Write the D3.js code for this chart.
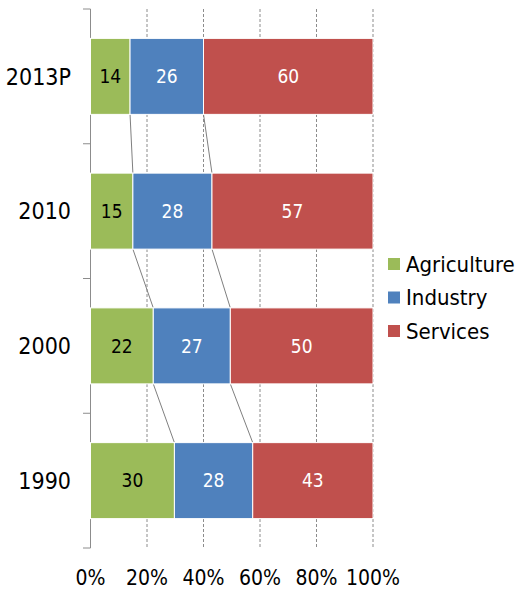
<!DOCTYPE html>
<html><head><meta charset="utf-8">
<script src="https://cdn.jsdelivr.net/npm/d3@7"></script>
<style>body{margin:0;background:#fff}svg{display:block}text{font-family:"DejaVu Sans Condensed","DejaVu Sans",sans-serif}</style>
</head><body><svg id="c" width="520" height="594"></svg>
<script>
const categories = ["2013P","2010","2000","1990"];
const seriesNames = ["Agriculture","Industry","Services"];
const agriculture = [14,15,22,30];
const industry = [26,28,27,28];
const services = [60,57,50,43];
const tickLabels = ["0%","20%","40%","60%","80%","100%"];
const colors = ["#9BBB59","#4F81BD","#C0504D"];
const labelColors = ["#000","#fff","#fff"];

const svg = d3.select("#c");
const x = d3.scaleLinear().domain([0,1]).range([90.5,373]);
const y = d3.scaleBand().domain(categories).range([9,548]).paddingInner(0.436).paddingOuter(0.218);

const rows = categories.map((c,i)=>({cat:c, vals:[agriculture[i],industry[i],services[i]]}));
rows.forEach(r=>{const s=d3.sum(r.vals); let cum=0; r.segs=r.vals.map((v,k)=>{const a=cum/s; cum+=v; return {k,v,x0:a,x1:cum/s};});});

// gridlines
svg.append("g").selectAll("line").data([0.2,0.4,0.6,0.8,1]).join("line")
 .attr("x1",d=>x(d)).attr("x2",d=>x(d)).attr("y1",9).attr("y2",548)
 .attr("stroke","#8c8c8c").attr("stroke-width",1).attr("stroke-dasharray","3,2");

// axis line + ticks
svg.append("line").attr("x1",90.5).attr("x2",90.5).attr("y1",9).attr("y2",548).attr("stroke","#8c8c8c");
const bounds = d3.range(categories.length+1).map(i=>9+i*(539/categories.length));
svg.append("g").selectAll("line").data(bounds).join("line")
 .attr("x1",83).attr("x2",90.5).attr("y1",d=>d).attr("y2",d=>d).attr("stroke","#8c8c8c");

// series lines
for(let i=0;i<rows.length-1;i++){
  const a=rows[i], b=rows[i+1];
  [0,1].forEach(k=>{
    svg.append("line").attr("x1",x(a.segs[k].x1)).attr("y1",y(a.cat)+y.bandwidth())
      .attr("x2",x(b.segs[k].x1)).attr("y2",y(b.cat)).attr("stroke","#7f7f7f").attr("stroke-width",1);
  });
}

// bars
const g = svg.append("g").selectAll("g").data(rows).join("g");
g.selectAll("rect").data(d=>d.segs.map(s=>({...s,cat:d.cat}))).join("rect")
 .attr("x",d=>x(d.x0)).attr("width",d=>x(d.x1)-x(d.x0))
 .attr("y",d=>y(d.cat)).attr("height",y.bandwidth())
 .attr("fill",d=>colors[d.k]).attr("stroke","#fff").attr("stroke-width",1);
g.selectAll("text").data(d=>d.segs.map(s=>({...s,cat:d.cat}))).join("text")
 .attr("x",d=>(x(d.x0)+x(d.x1))/2).attr("y",d=>y(d.cat)+y.bandwidth()/2)
 .attr("dy","0.36em").attr("text-anchor","middle").attr("fill",d=>labelColors[d.k])
 .style("font-size","19px").text(d=>d.v);

// category labels
svg.append("g").selectAll("text").data(categories).join("text")
 .attr("x",71).attr("y",d=>y(d)+y.bandwidth()/2).attr("dy","0.36em").attr("text-anchor","end")
 .style("font-size","23px").attr("fill","#000").text(d=>d);

// x tick labels
svg.append("g").selectAll("text").data(tickLabels).join("text")
 .attr("x",(d,i)=>x(i*0.2)).attr("y",585).attr("text-anchor","middle")
 .style("font-size","21px").attr("fill","#000").text(d=>d);

// legend
const lg = svg.append("g").selectAll("g").data(seriesNames).join("g")
 .attr("transform",(d,i)=>`translate(388,${264+i*33.5})`);
lg.append("rect").attr("x",0).attr("y",-6).attr("width",12).attr("height",12).attr("fill",(d,i)=>colors[i]);
lg.append("text").attr("x",18).attr("dy","0.36em").style("font-size","22px").attr("fill","#000").text(d=>d);
</script></body></html>
